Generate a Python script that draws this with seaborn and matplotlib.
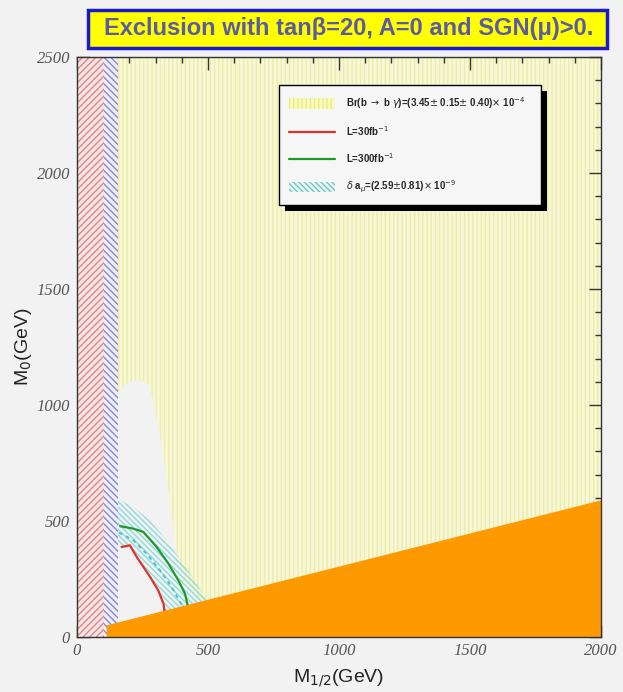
import matplotlib
matplotlib.use("Agg")
import matplotlib.pyplot as plt
import matplotlib.patheffects as pe
from matplotlib.patches import Polygon, Rectangle, Patch
from matplotlib.lines import Line2D
from matplotlib.ticker import MultipleLocator
import numpy as np
import pandas as pd
import seaborn as sns

# ---- data (M1/2 in GeV, M0 in GeV) ----
lep_m12 = [0, 103]          # red hatched strip
chargino_m12 = [103, 155]   # blue hatched strip

# region left open by b -> s gamma
bsg_m12 = [155, 165, 180, 205, 230, 255, 275, 292, 308, 325, 342, 360, 375, 392, 410, 445, 480]
bsg_m0 = [1040, 1065, 1085, 1100, 1105, 1100, 1085, 1010, 920, 810, 690, 545, 400, 310, 250, 195, 150]

# delta a_mu band: outer edge and inner edge
amu_outer_m12 = [155, 215, 279, 342, 406, 457, 500]
amu_outer_m0 = [596, 560, 503, 417, 316, 230, 150]
amu_inner_m12 = [336, 310, 279, 228, 202, 170, 155]
amu_inner_m0 = [93, 201, 259, 345, 395, 388, 400]
amu_center_m12 = [160, 215, 266, 317, 361, 400]
amu_center_m0 = [450, 417, 359, 287, 216, 137]

# discovery reach contours
reach30_m12 = [170, 202, 228, 279, 310, 330, 336]
reach30_m0 = [388, 395, 345, 259, 201, 144, 90]
reach300_m12 = [164, 215, 253, 304, 349, 387, 412, 425]
reach300_m0 = [478, 467, 453, 388, 316, 244, 187, 125]

# stau LSP region boundary
stau_m12 = [113, 2000]
stau_m0 = [50, 589]

title = "Exclusion with tan\u03b2=20, A=0 and SGN(\u03bc)>0."
legend_labels = [
    r"Br(b $\rightarrow$ b $\gamma$)=(3.45$\pm$ 0.15$\pm$ 0.40)$\times$ 10$^{-4}$",
    r"L=30fb$^{-1}$",
    r"L=300fb$^{-1}$",
    r"$\delta$ a$_{\mu}$=(2.59$\pm$0.81)$\times$ 10$^{-9}$",
]

sns.set_style("ticks")
plt.rcParams["font.family"] = ["Liberation Sans", "DejaVu Sans"]
plt.rcParams["hatch.linewidth"] = 1.0

BG = "#f2f2f2"
fig = plt.figure(figsize=(6.23, 6.92), dpi=100, facecolor=BG)
ax = fig.add_axes([77 / 623, 1 - 637 / 692, 524 / 623, 580 / 692])
ax.set_facecolor(BG)
ax.set_xlim(0, 2000)
ax.set_ylim(0, 2500)

# b -> s gamma excluded area (everything, then the open island on top)
ax.add_patch(Rectangle((0, 0), 2000, 2500, facecolor="#f7f7de", edgecolor="#eeeea0",
                       hatch="||||", linewidth=0, zorder=0.2))
isl = list(zip(bsg_m12, bsg_m0)) + [(bsg_m12[-1], 0), (bsg_m12[0], 0)]
ax.add_patch(Polygon(isl, closed=True, facecolor=BG, edgecolor="none", zorder=0.3))

# delta a_mu band
band = list(zip(amu_outer_m12, amu_outer_m0)) + list(zip(amu_inner_m12, amu_inner_m0))
ax.add_patch(Polygon(band, closed=True, facecolor="none", edgecolor="#8cdcdc",
                     hatch="\\" * 6, linewidth=0, zorder=0.4))
ax.plot(amu_center_m12, amu_center_m0, color="#40c8c8", lw=1.4, ls=(0, (2, 2)), zorder=0.5)

# low-M1/2 strips
ax.add_patch(Rectangle((lep_m12[0], 0), lep_m12[1] - lep_m12[0], 2500, facecolor="#f5e6e6",
                       edgecolor="#e28686", hatch="/" * 5, linewidth=0, zorder=0.6))
ax.add_patch(Rectangle((chargino_m12[0], 0), chargino_m12[1] - chargino_m12[0], 2500,
                       facecolor="#eeeef7", edgecolor="#8888de", hatch="\\" * 5,
                       linewidth=0, zorder=0.6))

# reach contours
df30 = pd.DataFrame({"m12": reach30_m12, "m0": reach30_m0})
df300 = pd.DataFrame({"m12": reach300_m12, "m0": reach300_m0})
sns.lineplot(data=df30, x="m12", y="m0", sort=False, color="#e03030", lw=1.6, ax=ax, zorder=1)
sns.lineplot(data=df300, x="m12", y="m0", sort=False, color="#1f9a2a", lw=1.6, ax=ax, zorder=1)

# stau LSP region
stau = [(stau_m12[0], 0), (stau_m12[0], stau_m0[0]), (stau_m12[1], stau_m0[1]), (stau_m12[1], 0)]
ax.add_patch(Polygon(stau, closed=True, facecolor="#ff9900", edgecolor="none", zorder=3))

# axes cosmetics
ax.set_xlabel("M$_{1/2}$(GeV)", fontsize=14, color="#222222", labelpad=6)
ax.set_ylabel("M$_0$(GeV)", fontsize=14, color="#222222", labelpad=2)
ax.xaxis.set_major_locator(MultipleLocator(500))
ax.xaxis.set_minor_locator(MultipleLocator(100))
ax.yaxis.set_major_locator(MultipleLocator(500))
ax.yaxis.set_minor_locator(MultipleLocator(100))
ax.tick_params(which="both", direction="in", top=True, right=True, color="#333333", width=1.0)
ax.tick_params(which="major", length=9)
ax.tick_params(which="minor", length=4.5)
for lab in ax.get_xticklabels() + ax.get_yticklabels():
    lab.set_fontfamily("Liberation Serif")
    lab.set_fontstyle("italic")
    lab.set_fontsize(12)
    lab.set_color("#555555")
ax.tick_params(axis="x", pad=4)
ax.tick_params(axis="y", pad=5)
for sp in ax.spines.values():
    sp.set_visible(True)
    sp.set_color("#333333")
    sp.set_linewidth(1.0)
    sp.set_zorder(4)

# legend
handles = [
    Patch(facecolor="#f8f8c8", edgecolor="#eeee70", hatch="||||", linewidth=0),
    Line2D([], [], color="#e03030", lw=1.6),
    Line2D([], [], color="#1f9a2a", lw=1.6),
    Patch(facecolor="#f2f2f2", edgecolor="#66cccc", hatch="\\" * 6, linewidth=0),
]
leg = ax.legend(handles, legend_labels, loc="upper left",
                bbox_to_anchor=(0.3855, 0.755, 0.5, 0.1967), mode="expand",
                borderaxespad=0, fancybox=False, frameon=True,
                prop={"weight": "bold", "size": 7}, handlelength=4.8,
                handleheight=1.3, handletextpad=1.1, labelspacing=1.4, borderpad=1.0)
fr = leg.get_frame()
fr.set_facecolor("#f6f6f6")
fr.set_edgecolor("black")
fr.set_linewidth(1.0)
fr.set_alpha(1)
fr.set_path_effects([pe.SimplePatchShadow(offset=(4, -4), shadow_rgbFace="black", alpha=1),
                     pe.Normal()])
leg.set_zorder(5)

# title box
fig.patches.append(Rectangle((88 / 623, 1 - 48 / 692), 519 / 623, 38 / 692,
                             transform=fig.transFigure, facecolor="#ffff00",
                             edgecolor="#1a1acc", linewidth=2.5))
fig.text(349 / 623, 1 - 29 / 692, title, ha="center", va="center", fontsize=17,
         fontweight="bold", color="#5a5aa6")

fig.savefig("out.png", dpi=100, facecolor=BG)
